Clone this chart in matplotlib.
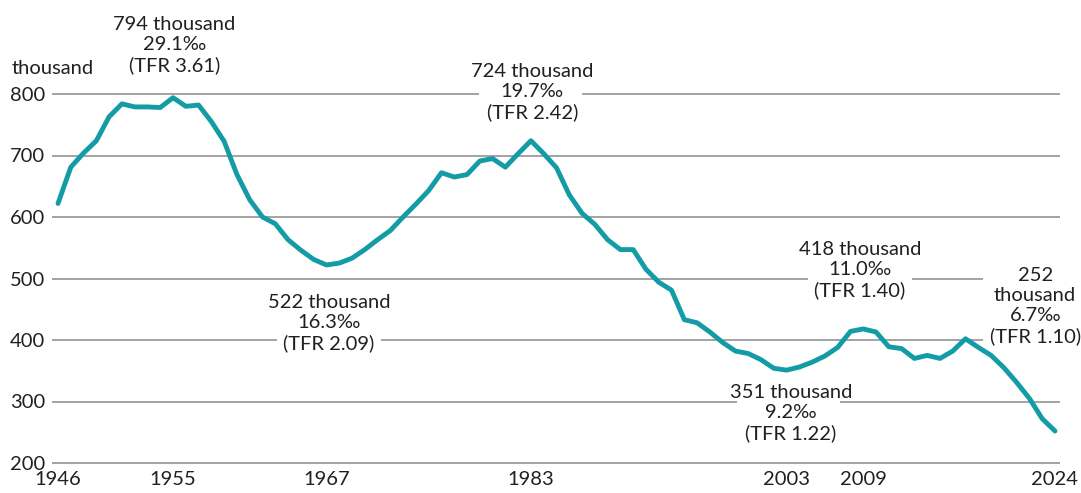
import numpy as np
import matplotlib.pyplot as plt
import matplotlib as mpl

mpl.rcParams["font.family"] = ["Lato", "DejaVu Sans"]

TEXT_COLOR = "#231f20"
LINE_COLOR = "#139ca5"
GRID_COLOR = "#8a8a8a"

years = np.arange(1946, 2025)
births = [
    622, 681, 704, 724, 763, 784, 779, 779, 778, 794,   # 1946-1955
    780, 782, 755, 723, 669, 628, 600, 589, 563, 546,   # 1956-1965
    531, 522, 525, 533, 547, 563, 578, 600, 621, 643,   # 1966-1975
    672, 665, 669, 691, 695, 681, 703, 724, 703, 680,   # 1976-1985
    636, 606, 588, 563, 547, 547, 515, 494, 481, 433,   # 1986-1995
    428, 413, 396, 382, 378, 368, 354, 351, 356, 364,   # 1996-2005
    374, 388, 414, 418, 413, 389, 386, 370, 375, 370,   # 2006-2015
    382, 402, 388, 375, 355, 331, 305, 272, 252,        # 2016-2024
]

y_ticks = [200, 300, 400, 500, 600, 700, 800]
x_ticks = [1946, 1955, 1967, 1983, 2003, 2009, 2024]

labels = [
    "794 thousand\n29.1‰\n(TFR 3.61)",
    "522 thousand\n16.3‰\n(TFR 2.09)",
    "724 thousand\n19.7‰\n(TFR 2.42)",
    "351 thousand\n9.2‰\n(TFR 1.22)",
    "418 thousand\n11.0‰\n(TFR 1.40)",
    "252\nthousand\n6.7‰\n(TFR 1.10)",
]
# label centres (year, thousand) - layout only
label_pos = [(1955.1, 880), (1967.2, 428), (1983.1, 803),
             (2003.35, 281), (2008.75, 514), (2022.45, 455)]

# pieces of gridlines left blank behind the labels
grid_gaps = {
    800: [(1978.9, 1987.0)],
    500: [(2004.7, 2012.8), (2018.4, 2100)],
    400: [(1963.1, 1971.3), (2018.4, 2100)],
    300: [(1999.1, 2007.2)],
}

fig = plt.figure(figsize=(10.81, 4.93), dpi=100)
ax = fig.add_axes([52 / 1081, 1 - 463 / 493, (1060 - 52) / 1081, (463 - 94) / 493])

x0, x1 = 1946 - 6 / 12.78, 2024 + 5 / 12.78
ax.set_xlim(x0, x1)
ax.set_ylim(200, 800)

for v in y_ticks:
    start = x0
    for g0, g1 in grid_gaps.get(v, []):
        ax.hlines(v, start, g0, color=GRID_COLOR, lw=1.1, zorder=1, clip_on=False)
        start = g1
    if start < x1:
        ax.hlines(v, start, x1, color=GRID_COLOR, lw=1.1, zorder=1, clip_on=False)

ax.plot(years, births, color=LINE_COLOR, lw=3.5, solid_joinstyle="round",
        solid_capstyle="round", zorder=3, clip_on=False)

for txt, (xx, yy) in zip(labels, label_pos):
    ax.text(xx, yy, txt, ha="center", va="center", fontsize=14.5,
            color=TEXT_COLOR, linespacing=1.22, zorder=4, clip_on=False)

for s in ax.spines.values():
    s.set_visible(False)
ax.set_yticks(y_ticks)
ax.set_xticks(x_ticks)
ax.tick_params(length=0, labelsize=14.5, labelcolor=TEXT_COLOR)
ax.tick_params(axis="y", pad=5)
ax.tick_params(axis="x", pad=6)

fig.text(12 / 1081, 1 - 68 / 493, "thousand", ha="left", va="center",
         fontsize=14.5, color=TEXT_COLOR)

fig.savefig("out.png", dpi=100, facecolor="white")
